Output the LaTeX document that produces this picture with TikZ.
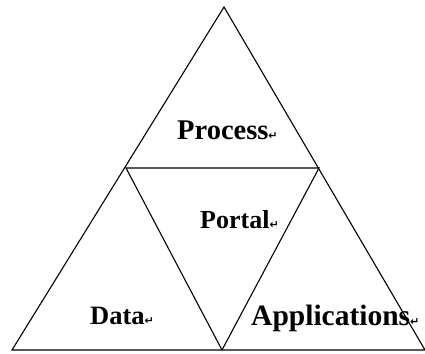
\documentclass[tikz,border=0pt]{standalone}
\usepackage{fontspec}
\setmainfont{Liberation Serif}
\newfontfamily\marksfont{DejaVu Sans}
\newcommand\retmark{{\fontsize{11}{11}\selectfont\marksfont ↵}}
\begin{document}
\begin{tikzpicture}[x=1pt,y=-1pt,
  edge/.style={line width=1.1pt,black,line join=miter},
  label/.style={anchor=base west,inner sep=0pt,font=\bfseries\fontsize{28.5}{30}\selectfont}]
\useasboundingbox (0,0) rectangle (425,353);
% outer triangle corners
\coordinate (apex) at (224,7);
\coordinate (bl) at (12,350);
\coordinate (br) at (425,350);
% inverted inner triangle
\coordinate (il) at (126,168);
\coordinate (ir) at (319,168);
\coordinate (ib) at (222,350);
\draw[edge] (apex) -- (bl) -- (br) -- cycle;
\draw[edge] (il) -- (ir) -- (ib) -- cycle;
% labels
\node[label] (process) at (177,139) {Process\retmark};
\node[label,font=\bfseries\fontsize{26}{28}\selectfont] (portal) at (200,228) {Portal\retmark};
\node[label,font=\bfseries\fontsize{26.5}{28}\selectfont] (data) at (90,324) {Data\retmark};
\node[label,font=\bfseries\fontsize{29.5}{30}\selectfont] (apps) at (251,325) {Applications\retmark};
\end{tikzpicture}
\end{document}
